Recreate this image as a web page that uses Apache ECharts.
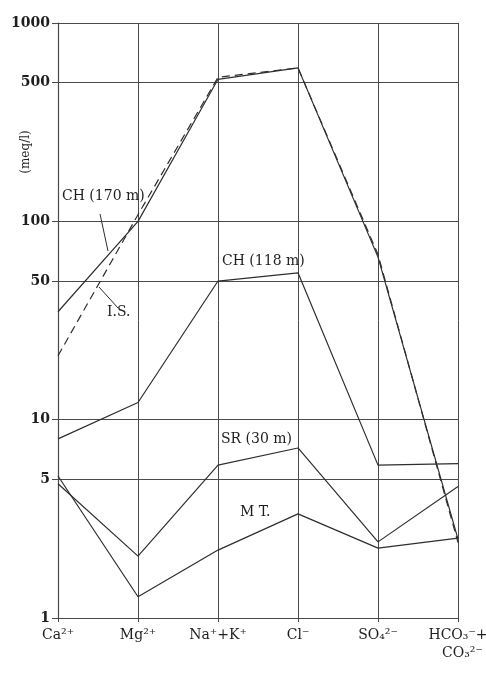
<!DOCTYPE html>
<html>
<head>
<meta charset="utf-8">
<script src="https://cdn.jsdelivr.net/npm/echarts@6/dist/echarts.min.js"></script>
<style>
  html, body { margin: 0; padding: 0; background: #fff; }
  #chart { width: 486px; height: 677px; }
</style>
</head>
<body>
<div id="chart"></div>
<script>
// Schoeller diagram: ion concentrations (meq/l) on a logarithmic scale
const ions = ['Ca²⁺', 'Mg²⁺', 'Na⁺+K⁺', 'Cl⁻', 'SO₄²⁻', 'HCO₃⁻+\n  CO₃²⁻'];
const yTicks = [1, 5, 10, 50, 100, 500, 1000];

const ch170 = [35, 100, 520, 594, 66, 2.5];
const isWell = [21, 108, 532, 594, 68, 2.4];
const ch118 = [8.0, 12.2, 50, 55, 5.9, 6.0];
const sr30 = [4.75, 2.05, 5.9, 7.2, 2.42, 4.6];
const mt = [5.2, 1.28, 2.2, 3.35, 2.25, 2.53];

const ink = '#2e2e2e';
const gridInk = '#4a4a4a';
const serif = 'DejaVu Serif';

const chart = echarts.init(document.getElementById('chart'), null, { renderer: 'canvas' });

function line(name, data, dashed) {
  return {
    name: name,
    type: 'line',
    data: data,
    symbol: 'none',
    lineStyle: { color: ink, width: 1.2, type: dashed ? [8, 5] : 'solid' },
    z: dashed ? 4 : 3
  };
}

function note(text, x, y) {
  return {
    type: 'text', left: x, top: y, z: 10,
    style: { text: text, font: '14px "' + serif + '"', fill: '#1e1e1e' }
  };
}

function leader(x1, y1, x2, y2) {
  return {
    type: 'line', z: 10,
    shape: { x1: x1, y1: y1, x2: x2, y2: y2 },
    style: { stroke: ink, lineWidth: 1 }
  };
}

chart.setOption({
  animation: false,
  backgroundColor: '#fff',
  grid: { left: 58, right: 28, top: 23, bottom: 59, outerBoundsMode: 'none', containLabel: false },
  xAxis: {
    type: 'category',
    data: ions,
    boundaryGap: false,
    axisLine: { lineStyle: { color: gridInk, width: 1.2 } },
    axisTick: { show: true, length: 4, lineStyle: { color: gridInk } },
    axisLabel: {
      interval: 0, margin: 8, color: '#1e1e1e',
      fontFamily: serif, fontSize: 14, lineHeight: 18
    },
    splitLine: { show: true, lineStyle: { color: gridInk, width: 1 } }
  },
  yAxis: {
    type: 'log',
    logBase: 10,
    min: 1,
    max: 1000,
    axisLine: { show: true, lineStyle: { color: gridInk, width: 1.2 } },
    axisTick: { show: true, length: 6, customValues: yTicks, lineStyle: { color: gridInk } },
    axisLabel: {
      customValues: yTicks, margin: 8, color: '#1e1e1e',
      fontFamily: serif, fontSize: 14, fontWeight: 'bold',
      formatter: function (v) { return String(v); }
    },
    splitLine: { show: true, lineStyle: { color: gridInk, width: 1 } }
  },
  graphic: [
    {
      type: 'text', x: 26, y: 152, rotation: Math.PI / 2, z: 10,
      style: {
        text: '(meq/l)', font: '12px "' + serif + '"', fill: '#1e1e1e',
        align: 'center', verticalAlign: 'middle'
      }
    },
    note('CH (170 m)', 62, 189),
    leader(100, 214, 108, 251),
    note('I.S.', 107, 305),
    leader(99, 287, 118, 308),
    note('CH (118 m)', 222, 254),
    note('SR (30 m)', 221, 432),
    note('M T.', 240, 505)
  ],
  series: [
    line('CH (170 m)', ch170, false),
    line('I.S.', isWell, true),
    line('CH (118 m)', ch118, false),
    line('SR (30 m)', sr30, false),
    line('MT.', mt, false)
  ]
});
</script>
</body>
</html>
